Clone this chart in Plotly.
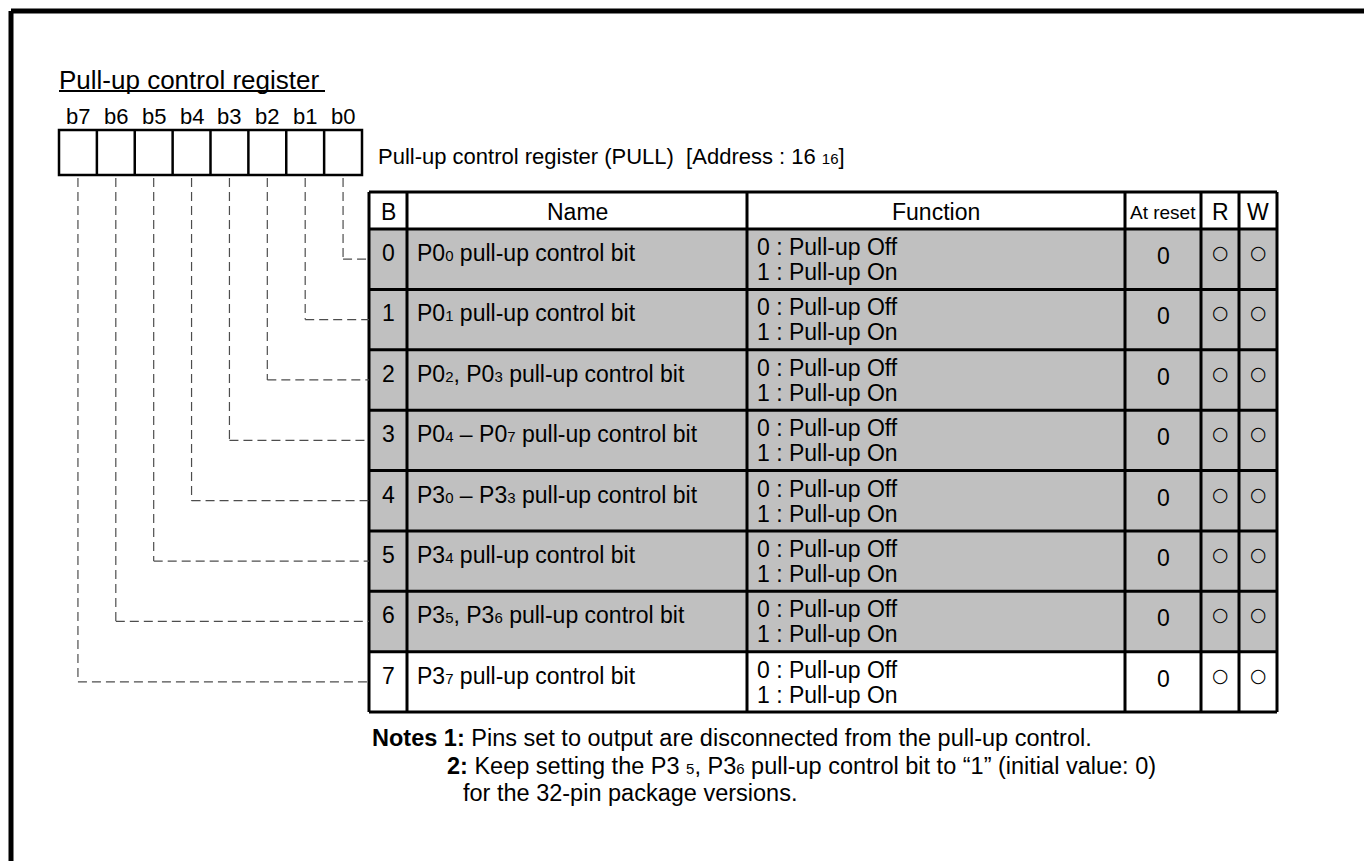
import re
import plotly.graph_objects as go

# ---------------- data ----------------
title = "Pull-up control register"
bit_labels = ["b7", "b6", "b5", "b4", "b3", "b2", "b1", "b0"]
register_caption = "Pull-up control register (PULL)  [Address : 16 {16}]"
header = ["B", "Name", "Function", "At reset", "R", "W"]
bit_numbers = ["0", "1", "2", "3", "4", "5", "6", "7"]
names = [
    "P0{0} pull-up control bit",
    "P0{1} pull-up control bit",
    "P0{2}, P0{3} pull-up control bit",
    "P0{4} – P0{7} pull-up control bit",
    "P3{0} – P3{3} pull-up control bit",
    "P3{4} pull-up control bit",
    "P3{5}, P3{6} pull-up control bit",
    "P3{7} pull-up control bit",
]
function_lines = ["0 : Pull-up Off", "1 : Pull-up On"]
reset_values = ["0", "0", "0", "0", "0", "0", "0", "0"]
read_marks = ["○"] * 8
write_marks = ["○"] * 8
shaded = [True, True, True, True, True, True, True, False]
notes = [
    ("Notes 1:", "Pins set to output are disconnected from the pull-up control."),
    ("2:", "Keep setting the P3 {5}, P3{6} pull-up control bit to “1” (initial value: 0)"),
    ("", "for the 32-pin package versions."),
]

# ---------------- layout constants ----------------
W, H = 1364, 861
FONT = "Liberation Sans, Arial, Helvetica, sans-serif"
SYMFONT = "DejaVu Sans, sans-serif"
FS = 23
SUBFS = 15
GRAY = "#c0c0c0"
DASHC = "#4d4d4d"

reg_left, reg_right, reg_top, reg_bot = 59, 362, 130, 175
col_edges = [369, 407, 747, 1125, 1201, 1239, 1277]
tbl_top, hdr_bot, tbl_bot = 192, 229, 712
row_h = (tbl_bot - hdr_bot) / 8


def sub(s):
    return re.sub(r"\{(\d+)\}", lambda m: f'<span style="font-size:{SUBFS}px">{m.group(1)}</span>', s)


fig = go.Figure()
shapes = []
ann = []


def text(x, y, s, size=FS, xanchor="left", bold=False, family=FONT):
    if bold:
        s = f"<b>{s}</b>"
    ann.append(dict(x=x, y=y, text=s, showarrow=False, xanchor=xanchor, yanchor="middle",
                    font=dict(family=family, size=size, color="black"), xref="x", yref="y"))


def line(x0, y0, x1, y1, width=3, color="black", dash=None):
    d = dict(type="line", x0=x0, y0=y0, x1=x1, y1=y1, xref="x", yref="y",
             line=dict(color=color, width=width))
    if dash:
        d["line"]["dash"] = dash
    shapes.append(d)


# frame
line(11, 11, W + 5, 11, width=5)
line(11, 11, 11, H + 5, width=5)

# title
text(reg_left - 2, 80, title, size=26)
line(reg_left, 91, 325, 91, width=2)

# register boxes
cell_w = (reg_right - reg_left) / 8
for i, lab in enumerate(bit_labels):
    cx = reg_left + cell_w * (i + 0.5)
    text(cx, 116, lab, size=22, xanchor="center")
shapes.append(dict(type="rect", x0=reg_left, x1=reg_right, y0=reg_top, y1=reg_bot,
                   line=dict(color="black", width=2.5), xref="x", yref="y"))
for i in range(1, 8):
    x = reg_left + cell_w * i
    line(x, reg_top, x, reg_bot, width=2.5)

text(376, 156, sub(register_caption), size=22)

# row backgrounds
for r, sh in enumerate(shaded):
    if sh:
        shapes.append(dict(type="rect", x0=col_edges[0], x1=col_edges[-1],
                           y0=hdr_bot + r * row_h, y1=hdr_bot + (r + 1) * row_h,
                           fillcolor=GRAY, line=dict(width=0), layer="below", xref="x", yref="y"))

# table grid
for x in col_edges:
    line(x, tbl_top, x, tbl_bot)
line(col_edges[0], tbl_top, col_edges[-1], tbl_top)
for r in range(9):
    y = hdr_bot + r * row_h
    line(col_edges[0], y, col_edges[-1], y)

# header
hy = (tbl_top + hdr_bot) / 2
centers = [(col_edges[i] + col_edges[i + 1]) / 2 for i in range(6)]
for i, h in enumerate(header):
    if h == "At reset":
        text(centers[i], hy + 2, h, size=19, xanchor="center")
    else:
        text(centers[i], hy + 1, h, xanchor="center")

# rows
for r in range(8):
    top = hdr_bot + r * row_h
    text(centers[0], top + 24, bit_numbers[r], xanchor="center")
    text(col_edges[1] + 8, top + 24, sub(names[r]))
    text(col_edges[2] + 8, top + 18, function_lines[0])
    text(col_edges[2] + 8, top + 43, function_lines[1])
    text(centers[3], top + 27, reset_values[r], xanchor="center")
    text(centers[4], top + 23, read_marks[r], size=19, xanchor="center", family=SYMFONT)
    text(centers[5], top + 23, write_marks[r], size=19, xanchor="center", family=SYMFONT)

# dashed connectors: b_i -> row i
for r in range(8):
    idx = bit_labels.index(f"b{r}")
    cx = reg_left + cell_w * (idx + 0.5)
    cy = hdr_bot + (r + 0.5) * row_h
    line(cx, reg_bot + 3, cx, cy, width=1.2, color=DASHC, dash="9px,5px")
    line(cx, cy, col_edges[0], cy, width=1.2, color=DASHC, dash="9px,5px")

# notes
NFS = 23.5
text(370, 738, f"<b>{notes[0][0]}</b> " + sub(notes[0][1]), size=NFS)
text(445, 766, f"<b>{notes[1][0]}</b> " + sub(notes[1][1]), size=NFS)
text(461, 793, sub(notes[2][1]), size=NFS)

fig.update_layout(
    width=W, height=H, margin=dict(l=0, r=0, t=0, b=0),
    paper_bgcolor="white", plot_bgcolor="white",
    xaxis=dict(range=[0, W], visible=False, fixedrange=True),
    yaxis=dict(range=[H, 0], visible=False, fixedrange=True),
    shapes=shapes, annotations=ann, showlegend=False,
)
fig.write_html("out.html", config={"displayModeBar": False},
               post_script="document.body.style.margin='0';document.body.style.overflow='hidden';")
